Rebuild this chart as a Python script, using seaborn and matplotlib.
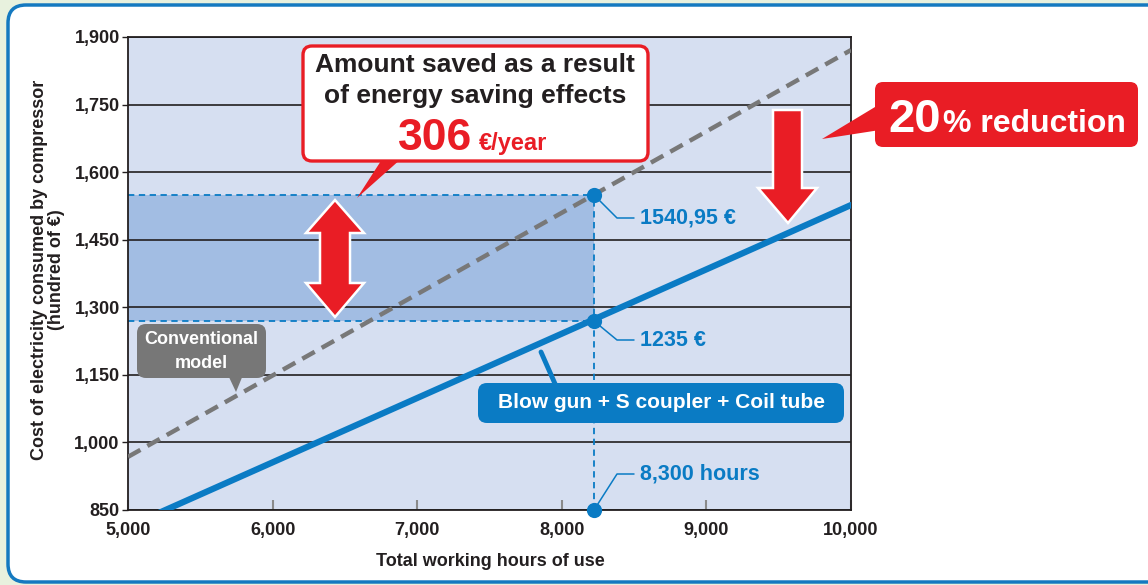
import matplotlib.pyplot as plt
import matplotlib.transforms as mtransforms
from matplotlib.patches import FancyBboxPatch, Polygon
from matplotlib.lines import Line2D
import seaborn as sns

# values
hours = [5000, 10000]
conventional_cost = [968, 1871]
new_cost = [813, 1527]
point_hours = [8220, 8220, 8220]
point_cost = [1549, 1270, 850]
point_labels = ['1540,95 €', '1235 €', '8,300 hours']
x_ticks = [5000, 6000, 7000, 8000, 9000, 10000]
y_ticks = [850, 1000, 1150, 1300, 1450, 1600, 1750, 1900]
saving_value = '306'
reduction_pct = '20'

BLUE = '#0a7bc4'
RED = '#e91d25'
GRAY = '#787878'
DARK = '#231f20'

sns.set_theme(style='white')
plt.rcParams['font.family'] = ['Liberation Sans', 'DejaVu Sans']
plt.rcParams['font.weight'] = 'bold'

W, H = 1148, 585
fig = plt.figure(figsize=(W / 100, H / 100), dpi=100)
fig.patch.set_facecolor('#e8f1de')
# pixel coordinates of the reference image (origin top-left)
px = mtransforms.Affine2D().scale(1 / W, -1 / H).translate(0, 1) + fig.transFigure


def box(x0, y0, x1, y1, fc, ec='none', lw=0, r=8, z=5):
    p = FancyBboxPatch((x0, y0), x1 - x0, y1 - y0,
                       boxstyle=f'round,pad=0,rounding_size={r}',
                       fc=fc, ec=ec, lw=lw, transform=px, zorder=z)
    fig.add_artist(p)


def poly(pts, fc, ec='none', lw=0, z=5):
    fig.add_artist(Polygon(pts, closed=True, fc=fc, ec=ec, lw=lw,
                           transform=px, zorder=z, joinstyle='miter'))


def line(xs, ys, color, lw, z=5):
    fig.add_artist(Line2D(xs, ys, color=color, lw=lw, transform=px, zorder=z))


# outer white frame
box(8, 5, 1175, 582, 'white', ec='#1479c0', lw=2.5, r=18, z=-1)

ax = fig.add_axes([128 / W, 1 - 510 / H, (851 - 128) / W, (510 - 37) / H])
ax.set_facecolor('#d6dff1')

# shaded saving area and guide lines
ax.fill_between([hours[0], point_hours[0]], point_cost[1], point_cost[0],
                color='#a2bde3', lw=0, zorder=0.3)
ax.hlines(point_cost[:2], hours[0], point_hours[0], colors=BLUE, lw=1.3,
          linestyles=(0, (3.5, 2.5)), zorder=2)
ax.vlines(point_hours[0], point_cost[2], point_cost[0], colors=BLUE, lw=1.3,
          linestyles=(0, (3.5, 2.5)), zorder=2)

sns.lineplot(x=hours, y=conventional_cost, ax=ax, color=GRAY, lw=3.2,
             linestyle=(0, (3.2, 1.8)), zorder=3)
sns.lineplot(x=hours, y=new_cost, ax=ax, color=BLUE, lw=4.5, zorder=3)
sns.scatterplot(x=point_hours, y=point_cost, ax=ax, s=120, color=BLUE,
                linewidth=0, zorder=6, clip_on=False)

ax.set_xlim(5000, 10000)
ax.set_ylim(850, 1900)
ax.set_xticks(x_ticks)
ax.set_xticklabels([f'{v:,}' for v in x_ticks])
ax.set_yticks(y_ticks)
ax.set_yticklabels([f'{v:,}' for v in y_ticks])
ax.set_axisbelow(True)
ax.yaxis.grid(True, color=DARK, lw=1.2)
ax.xaxis.grid(False)
ax.tick_params(axis='x', direction='in', length=7, width=1.5, color='#8a8a8a',
               labelsize=13, labelcolor=DARK, pad=9, bottom=True)
ax.tick_params(axis='y', direction='out', length=4, width=1, color=DARK,
               labelsize=13, labelcolor=DARK, pad=2, left=True)
for s in ax.spines.values():
    s.set_color(DARK)
    s.set_linewidth(1.3)

fig.text(490, 561, 'Total working hours of use', transform=px, ha='center',
         va='center', fontsize=13, color=DARK, fontweight='bold')
fig.text(48, 270, 'Cost of electricity consumed by compressor\n(hundred of €)',
         transform=px, ha='center', va='center', rotation=90, fontsize=13,
         color=DARK, fontweight='bold', multialignment='center', linespacing=1.05)

# point labels with leader lines
leaders = [(195, 218), (321, 340), (510, 474)]
for (y0, y1), lab in zip(leaders, point_labels):
    line([594, 617, 634], [y0, y1, y1], BLUE, 1.1)
    fig.text(640, y1, lab, transform=px, ha='left', va='center',
             fontsize=15.5, color=BLUE, fontweight='bold', zorder=6)

# callout: amount saved
poly([(388, 150), (411, 150), (357, 198)], RED)
box(303, 46, 648, 161, 'white', ec=RED, lw=2.4, r=9)
fig.text(475, 65, 'Amount saved as a result', transform=px, ha='center',
         va='center', fontsize=19, color=DARK, fontweight='bold', zorder=6)
fig.text(475, 96, 'of energy saving effects', transform=px, ha='center',
         va='center', fontsize=19, color=DARK, fontweight='bold', zorder=6)
fig.text(472, 150, saving_value, transform=px, ha='right', va='baseline',
         fontsize=32, color=RED, fontweight='bold', zorder=6)
fig.text(479, 150, '€/year', transform=px, ha='left', va='baseline',
         fontsize=17, color=RED, fontweight='bold', zorder=6)

# double arrow
poly([(335, 200), (364, 233), (350, 233), (350, 283), (364, 283), (335, 317),
      (306, 283), (320, 283), (320, 233), (306, 233)], RED, ec='white', lw=1.8)
# down arrow
poly([(773, 110), (802, 110), (802, 188), (817, 188), (788, 223), (758, 188),
      (773, 188)], RED, ec='white', lw=1.8)

# callout: 20% reduction
poly([(880, 104), (880, 130), (822, 139)], RED)
box(875, 82, 1138, 147, RED, r=8)
fig.text(888, 132, reduction_pct, transform=px, ha='left', va='baseline',
         fontsize=34, color='white', fontweight='bold', zorder=6)
fig.text(943, 132, '% reduction', transform=px, ha='left', va='baseline',
         fontsize=23, color='white', fontweight='bold', zorder=6)

# label: conventional model
poly([(228, 375), (243, 375), (236, 392)], '#777777')
box(137, 324, 266, 378, '#777777', r=9)
fig.text(201, 339, 'Conventional', transform=px, ha='center', va='center',
         fontsize=13, color='white', fontweight='bold', zorder=6)
fig.text(201, 363, 'model', transform=px, ha='center', va='center',
         fontsize=13, color='white', fontweight='bold', zorder=6)

# label: new setup
line([541, 556], [352, 386], BLUE, 3.5)
box(478, 383, 844, 423, BLUE, r=9)
fig.text(661, 403, 'Blow gun + S coupler + Coil tube', transform=px,
         ha='center', va='center', fontsize=15, color='white',
         fontweight='bold', zorder=6)

fig.savefig('out.png', dpi=100, facecolor=fig.get_facecolor())
